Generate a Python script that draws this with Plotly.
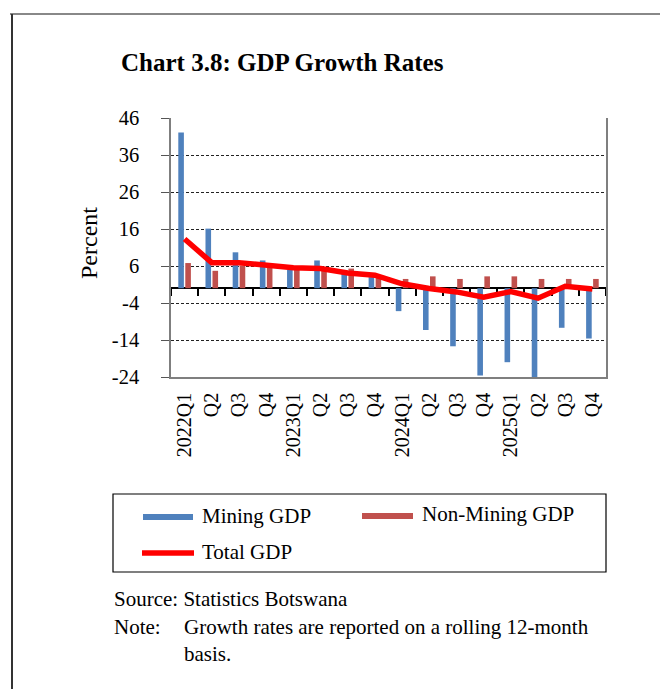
import plotly.graph_objects as go

# Quarterly GDP growth, percent (rolling 12-month basis)
quarters = ["2022Q1", "Q2", "Q3", "Q4", "2023Q1", "Q2", "Q3", "Q4",
            "2024Q1", "Q2", "Q3", "Q4", "2025Q1", "Q2", "Q3", "Q4"]
mining_gdp = [42.1, 16.1, 9.7, 7.5, 5.0, 7.5, 4.0, 3.0,
              -6.2, -11.3, -15.7, -23.6, -20.0, -24.5, -10.7, -13.6]
non_mining_gdp = [6.8, 4.7, 6.1, 5.5, 5.0, 5.0, 5.3, 2.8,
                  2.5, 3.2, 2.5, 3.2, 3.2, 2.5, 2.5, 2.5]
total_gdp = [13.3, 6.9, 6.9, 6.2, 5.5, 5.3, 4.1, 3.5,
             1.2, -0.1, -1.0, -2.4, -0.9, -2.7, 0.5, -0.2]
y_ticks = [-24, -14, -4, 6, 16, 26, 36, 46]
y_tick_labels = ["-24", "-14", "-4", "6", "16", "26", "36", "46"]

BLUE = "#4F81BD"
BROWN = "#C0504D"
RED = "#FF0000"
FONT = "Liberation Serif"

W, H = 660, 689
L, R, T, B = 171, 606, 118, 377
y_lo, y_hi = y_ticks[0], y_ticks[-1]


def px(x):
    return (x - L) / (R - L)


def py(y):
    return (B - y) / (B - T)


idx = list(range(len(quarters)))

fig = go.Figure()
fig.add_trace(go.Bar(x=idx, y=mining_gdp, name="Mining GDP",
                     marker=dict(color=BLUE, line=dict(width=0))))
fig.add_trace(go.Bar(x=idx, y=non_mining_gdp, name="Non-Mining GDP",
                     marker=dict(color=BROWN, line=dict(width=0))))
fig.add_trace(go.Scatter(x=idx, y=total_gdp, name="Total GDP", mode="lines",
                         line=dict(color=RED, width=5.5)))
# carrier for the zero-crossing category axis
fig.add_trace(go.Scatter(x=idx, y=total_gdp, xaxis="x2", mode="lines",
                         line=dict(width=0), opacity=0, hoverinfo="skip",
                         showlegend=False))

fig.update_layout(
    width=W, height=H,
    margin=dict(l=L, r=W - R, t=T, b=H - B),
    paper_bgcolor="white", plot_bgcolor="white",
    showlegend=False,
    barmode="group", bargap=0.485, bargroupgap=0.2,
    font=dict(family=FONT, color="black"),
    xaxis=dict(
        range=[-0.5, len(quarters) - 0.5],
        tickvals=idx, ticktext=quarters, tickangle=-90,
        ticks="", showgrid=False, zeroline=False,
        showline=True, linecolor="#7f7f7f", linewidth=1.5,
        tickfont=dict(family=FONT, size=20, color="black"),
        ticklabelstandoff=6,
    ),
    xaxis2=dict(
        range=[-0.5, len(quarters) - 0.5],
        overlaying="x", anchor="free",
        position=(0 - y_lo) / (y_hi - y_lo),
        tickvals=[i - 0.5 for i in range(len(quarters) + 1)],
        ticks="outside", ticklen=7, tickwidth=2, tickcolor="black",
        showticklabels=False, showgrid=False, zeroline=False,
        showline=True, linecolor="black", linewidth=2,
        layer="below traces",
    ),
    yaxis=dict(
        range=[y_lo, y_hi], tickvals=y_ticks, ticktext=y_tick_labels,
        showgrid=True, gridcolor="#222222", gridwidth=1, griddash="3px,2px",
        zeroline=False,
        showline=True, mirror=True, linecolor="#7f7f7f", linewidth=1.5,
        ticks="outside", ticklen=8, tickcolor="#555555",
        tickfont=dict(family=FONT, size=20.5, color="black"),
        ticklabelstandoff=18,
    ),
)

annotations = [
    dict(text="<b>Chart 3.8: GDP Growth Rates</b>", x=px(119), y=py(62),
         xanchor="left", yanchor="middle", font=dict(size=25)),
    dict(text="Percent", x=px(89), y=py(243), textangle=-90,
         xanchor="center", yanchor="middle", font=dict(size=24)),
    dict(text="Mining GDP", x=px(200), y=py(516),
         xanchor="left", yanchor="middle", font=dict(size=21)),
    dict(text="Non-Mining GDP", x=px(420), y=py(514),
         xanchor="left", yanchor="middle", font=dict(size=21)),
    dict(text="Total GDP", x=px(200), y=py(552),
         xanchor="left", yanchor="middle", font=dict(size=21)),
    dict(text="Source: Statistics Botswana", x=px(112), y=py(599),
         xanchor="left", yanchor="middle", font=dict(size=21)),
    dict(text="Note:", x=px(112), y=py(627),
         xanchor="left", yanchor="middle", font=dict(size=21)),
    dict(text="Growth rates are reported on a rolling 12-month", x=px(182), y=py(627),
         xanchor="left", yanchor="middle", font=dict(size=21)),
    dict(text="basis.", x=px(182), y=py(654),
         xanchor="left", yanchor="middle", font=dict(size=21)),
]
for a in annotations:
    a.update(xref="paper", yref="paper", showarrow=False)
    a["font"].update(family=FONT, color="black")
fig.update_layout(annotations=annotations)

shapes = [
    # page frame
    dict(type="line", x0=px(10), x1=px(660), y0=py(14), y1=py(14),
         line=dict(color="#888888", width=2)),
    dict(type="line", x0=px(12), x1=px(12), y0=py(14), y1=py(689),
         line=dict(color="#333333", width=2)),
    # legend box and keys
    dict(type="rect", x0=px(113), x1=px(606), y0=py(494), y1=py(572),
         line=dict(color="black", width=1.2)),
    dict(type="line", x0=px(143), x1=px(193), y0=py(517), y1=py(517),
         line=dict(color=BLUE, width=6)),
    dict(type="line", x0=px(362), x1=px(413), y0=py(516), y1=py(516),
         line=dict(color=BROWN, width=6)),
    dict(type="line", x0=px(142), x1=px(194), y0=py(553), y1=py(553),
         line=dict(color=RED, width=5.5)),
]
for s in shapes:
    s.update(xref="paper", yref="paper")
fig.update_layout(shapes=shapes)

fig.write_html("out.html")
